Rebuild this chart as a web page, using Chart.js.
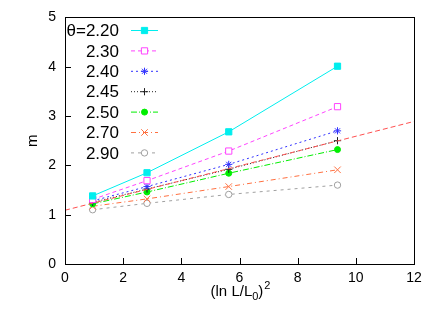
<!DOCTYPE html>
<html><head><meta charset="utf-8">
<script src="https://cdn.jsdelivr.net/npm/chart.js@4/dist/chart.umd.min.js"></script>
<style>html,body{margin:0;padding:0;background:#fff}#c{display:block}</style>
</head><body>
<canvas id="c" width="436" height="312"></canvas>
<script>
const legendLabels = ['θ=2.20','2.30','2.40','2.45','2.50','2.70','2.90'];
const xVals = [0.95, 2.82, 5.63, 9.37];
const m220 = [1.38, 1.85, 2.68, 4.01];
const m230 = [1.31, 1.69, 2.29, 3.19];
const m240 = [1.28, 1.57, 2.02, 2.70];
const m245 = [1.25, 1.52, 1.92, 2.50];
const m250 = [1.22, 1.46, 1.84, 2.32];
const m270 = [1.17, 1.32, 1.57, 1.91];
const m290 = [1.10, 1.23, 1.41, 1.60];
const fitX = [0, 12];
const fitY = [1.09, 2.89];
const xTicks = [0, 2, 4, 6, 8, 10, 12];
const yTicks = [0, 1, 2, 3, 4, 5];
const xTitleMain = '(ln L/L', xTitleSub = '0', xTitleClose = ')', xTitleSup = '2';

const FONT = '"Liberation Sans", Arial, sans-serif';
const series = [m220, m230, m240, m245, m250, m270, m290];
const styles = [
  {c:'#00eeee', p:'rect', fill:true, dash:[], r:4.4},
  {c:'#ff44ff', p:'rect', fill:false, dash:[4,3], r:4.4},
  {c:'#3030ff', p:'star', fill:false, dash:[2,3], r:3.6},
  {c:'#202020', p:'cross', fill:false, dash:[1,2], r:3.6},
  {c:'#00ee00', p:'circle', fill:true, dash:[6,2,1,2], r:3},
  {c:'#ff7040', p:'crossRot', fill:false, dash:[5,3,1,3], r:4.6},
  {c:'#a0a0a0', p:'circle', fill:false, dash:[3,4], r:3.2}
];
const toPts = (xs, ys) => xs.map((x,i)=>({x:x, y:ys[i]}));

const datasets = [{
  label: 'fit', data: toPts(fitX, fitY), borderColor:'#ff5050', borderWidth:1,
  borderDash:[5,3], pointRadius:0, fill:false, showLine:true, inLegend:false
}];
series.forEach((s,i)=>{
  const st = styles[i];
  datasets.push({
    label: legendLabels[i], data: toPts(xVals, s), borderColor: st.c, borderWidth:1,
    borderDash: st.dash, pointStyle: st.p, pointRadius: st.r,
    pointBackgroundColor: st.fill ? st.c : '#ffffff', pointBorderColor: st.c, pointBorderWidth:1,
    fill:false, showLine:true, inLegend:true
  });
});

const frame = {
  id:'frame',
  afterDatasetsDraw(chart){
    const {ctx, chartArea:a, scales:{x, y}} = chart;
    ctx.save();
    ctx.strokeStyle='#000'; ctx.lineWidth=1; ctx.setLineDash([]);
    ctx.beginPath();
    yTicks.slice(1,-1).forEach(v=>{const py=Math.round(y.getPixelForValue(v))+0.5; ctx.moveTo(a.left, py); ctx.lineTo(a.left+6, py);});
    xTicks.slice(1,-1).forEach(v=>{const px=Math.round(x.getPixelForValue(v))+0.5; ctx.moveTo(px, a.bottom); ctx.lineTo(px, a.bottom-6);});
    ctx.stroke();
    ctx.strokeRect(Math.round(a.left)+0.5, Math.round(a.top)+0.5, Math.round(a.right-a.left), Math.round(a.bottom-a.top));
    // legend
    const x0 = 119, lx1 = 131, lx2 = 158, y0 = 30.5, dy = 20.4;
    ctx.font = '17px ' + FONT;
    ctx.textAlign='right'; ctx.textBaseline='middle';
    let row = 0;
    chart.data.datasets.forEach(ds=>{
      if(!ds.inLegend) return;
      const yy = y0 + row*dy;
      ctx.fillStyle='#000';
      ctx.fillText(ds.label, x0, yy+1);
      ctx.strokeStyle = ds.borderColor; ctx.lineWidth=1; ctx.setLineDash(ds.borderDash);
      ctx.beginPath(); ctx.moveTo(lx1, yy); ctx.lineTo(lx2, yy); ctx.stroke();
      ctx.setLineDash([]);
      ctx.fillStyle = ds.pointBackgroundColor; ctx.strokeStyle = ds.pointBorderColor; ctx.lineWidth = ds.pointBorderWidth;
      Chart.helpers.drawPoint(ctx, {pointStyle: ds.pointStyle, radius: ds.pointRadius, rotation:0, borderWidth: ds.pointBorderWidth}, (lx1+lx2)/2, yy);
      row++;
    });
    // x title with subscript / superscript
    ctx.fillStyle='#000'; ctx.textAlign='left'; ctx.textBaseline='alphabetic';
    const big = '15px ' + FONT, small = '11px ' + FONT;
    ctx.font = big; const w1 = ctx.measureText(xTitleMain).width, w3 = ctx.measureText(xTitleClose).width;
    ctx.font = small; const w2 = ctx.measureText(xTitleSub).width, w4 = ctx.measureText(xTitleSup).width;
    const total = w1 + w2 + w3 + w4 + 1;
    let tx = (a.left + a.right)/2 - total/2 + 1;
    const base = 296;
    ctx.font = big; ctx.fillText(xTitleMain, tx, base); tx += w1;
    ctx.font = small; ctx.fillText(xTitleSub, tx, base + 4); tx += w2;
    ctx.font = big; ctx.fillText(xTitleClose, tx, base); tx += w3 + 1;
    ctx.font = small; ctx.fillText(xTitleSup, tx, base - 7);
    ctx.restore();
  }
};

new Chart(document.getElementById('c'), {
  type:'scatter',
  data:{datasets},
  options:{
    responsive:false, animation:false, devicePixelRatio:1,
    layout:{padding:{top:10.6, right:22, left:0, bottom:0}},
    plugins:{legend:{display:false}, tooltip:{enabled:false}},
    scales:{
      x:{type:'linear', min:0, max:12, afterFit(s){s.height=48;},
        afterBuildTicks(s){s.ticks = xTicks.map(v=>({value:v}));},
        grid:{display:false, drawTicks:false}, border:{display:false},
        ticks:{padding:6, color:'#000', font:{family:FONT, size:14}, maxRotation:0, autoSkip:false},
        title:{display:false}
      },
      y:{type:'linear', min:0, max:5, afterFit(s){s.width=65;},
        afterBuildTicks(s){s.ticks = yTicks.map(v=>({value:v}));},
        grid:{display:false, drawTicks:false}, border:{display:false},
        ticks:{padding:9, color:'#000', font:{family:FONT, size:14}},
        title:{display:true, text:'m', color:'#000', padding:{top:24, bottom:0}, font:{family:FONT, size:15}}
      }
    }
  },
  plugins:[frame]
});
</script>
</body></html>
